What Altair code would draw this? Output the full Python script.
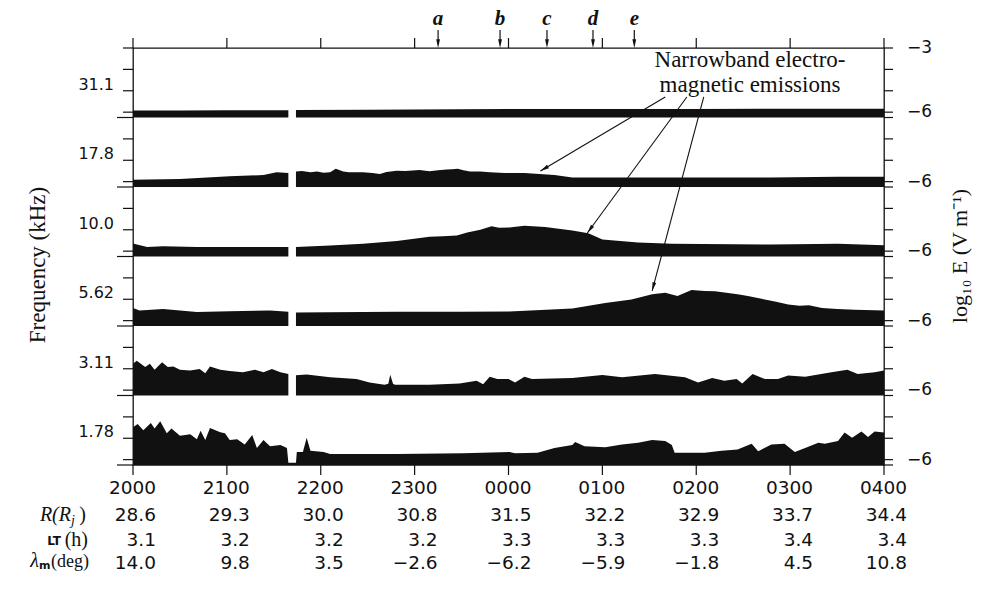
import math
import altair as alt
import pandas as pd

# ---------------- data ----------------
HOUR_LABELS = ["2000", "2100", "2200", "2300", "0000", "0100", "0200", "0300", "0400"]
R_RJ = ["28.6", "29.3", "30.0", "30.8", "31.5", "32.2", "32.9", "33.7", "34.4"]
LT_H = ["3.1", "3.2", "3.2", "3.2", "3.3", "3.3", "3.3", "3.4", "3.4"]
LAT_DEG = ["14.0", "9.8", "3.5", "\u22122.6", "\u22126.2", "\u22125.9", "\u22121.8", "4.5", "10.8"]
FREQS = ["31.1", "17.8", "10.0", "5.62", "3.11", "1.78"]
EVENT_LABELS = ["a", "b", "c", "d", "e"]
EVENT_T = [3.25, 3.91, 4.41, 4.90, 5.34]          # hours after 2000
GAP_START, GAP_END = 1.655, 1.736

# time (h after 2000) and log10 E for each channel
P1_T = [0.0, 0.5, 1.0, 1.655, 1.736, 2.5, 3.0, 3.5, 4.0, 4.6, 5.0, 6.0, 7.0, 8.0]
P1_V = [-5.92, -5.92, -5.91, -5.91, -5.90, -5.89, -5.88, -5.87, -5.85, -5.85, -5.85, -5.85, -5.84, -5.84]

P2_T = [0.0, 0.5, 1.03, 1.39, 1.53, 1.655, 1.736, 1.80, 1.89, 1.96, 2.03, 2.1, 2.16, 2.24, 2.3, 2.45,
        2.55, 2.63, 2.7, 2.81, 2.9, 2.98, 3.05, 3.16, 3.25, 3.34, 3.4, 3.46, 3.52, 3.59, 3.7, 3.8,
        3.96, 4.17, 4.49, 4.68, 5.03, 5.74, 6.8, 7.51, 8.0]
P2_V = [-5.91, -5.88, -5.75, -5.69, -5.56, -5.59, -5.53, -5.50, -5.56, -5.53, -5.58, -5.56, -5.40, -5.53, -5.56, -5.56,
        -5.60, -5.64, -5.55, -5.49, -5.50, -5.48, -5.46, -5.51, -5.47, -5.43, -5.42, -5.40, -5.47, -5.53, -5.52, -5.56,
        -5.60, -5.59, -5.69, -5.80, -5.81, -5.81, -5.80, -5.77, -5.77]

P3_T = [0.0, 0.15, 0.32, 0.68, 1.2, 1.655, 1.736, 2.1, 2.45, 2.81, 3.16, 3.3, 3.45, 3.56, 3.7, 3.82,
        3.9, 4.01, 4.17, 4.39, 4.68, 4.85, 5.0, 5.38, 5.74, 6.8, 7.51, 8.0]
P3_V = [-5.64, -5.80, -5.77, -5.80, -5.80, -5.80, -5.80, -5.74, -5.65, -5.53, -5.33, -5.30, -5.27, -5.13, -5.00, -4.84,
        -4.90, -4.89, -4.81, -4.87, -5.03, -5.16, -5.45, -5.59, -5.65, -5.69, -5.65, -5.72]

P4_T = [0.0, 0.07, 0.32, 0.68, 1.03, 1.46, 1.655, 1.736, 2.81, 3.5, 4.01, 4.68, 5.03, 5.31, 5.53, 5.67,
        5.8, 5.95, 6.09, 6.2, 6.3, 6.44, 6.55, 6.73, 6.85, 6.98, 7.1, 7.2, 7.34, 7.5, 7.69, 8.0]
P4_V = [-5.41, -5.53, -5.46, -5.60, -5.56, -5.53, -5.58, -5.62, -5.58, -5.58, -5.57, -5.43, -5.17, -5.01, -4.77, -4.69,
        -4.85, -4.57, -4.61, -4.63, -4.68, -4.77, -4.85, -5.01, -5.12, -5.25, -5.30, -5.28, -5.41, -5.45, -5.49, -5.53]

P5_T = [0.0, 0.04, 0.13, 0.18, 0.23, 0.31, 0.37, 0.43, 0.5, 0.61, 0.71, 0.77, 0.82, 0.93, 1.03, 1.17, 1.3, 1.39,
        1.48, 1.57, 1.655,
        1.736, 1.85, 2.1, 2.38, 2.52, 2.68, 2.72, 2.74, 2.77, 2.79, 3.16, 3.48, 3.66, 3.73, 3.8, 3.88, 4.0, 4.07,
        4.17, 4.25,
        4.68, 5.0, 5.21, 5.56, 5.88, 6.02, 6.17, 6.3, 6.43, 6.49, 6.6, 6.73, 6.87, 6.98, 7.16, 7.44, 7.61, 7.72,
        7.9, 8.0]
P5_V = [-4.76, -4.63, -4.92, -4.76, -5.05, -4.69, -4.92, -4.89, -5.05, -5.08, -5.01, -5.21, -4.89, -5.05, -5.11,
        -5.16, -5.05, -5.16, -5.01, -5.16, -5.24,
        -5.30, -5.27, -5.40, -5.48, -5.64, -5.75, -5.70, -5.28, -5.70, -5.75, -5.75, -5.69, -5.56, -5.72, -5.37,
        -5.48, -5.48, -5.64, -5.37, -5.48,
        -5.43, -5.29, -5.40, -5.24, -5.40, -5.64, -5.43, -5.56, -5.48, -5.69, -5.24, -5.48, -5.48, -5.32, -5.37,
        -5.16, -5.05, -5.24, -5.16, -5.08]

P6_T = [0.0, 0.05, 0.11, 0.19, 0.23, 0.29, 0.36, 0.41, 0.5, 0.61, 0.68, 0.72, 0.77, 0.82, 0.93, 0.98, 1.03,
        1.11, 1.19, 1.27, 1.32, 1.39, 1.46, 1.57, 1.64,
        1.655, 1.736,
        1.745, 1.81, 1.85, 1.89, 2.03, 2.1, 2.81, 3.52, 4.01, 4.07, 4.31, 4.49, 4.68, 4.71, 4.81, 5.03, 5.21,
        5.38, 5.53, 5.67, 5.74, 5.77,
        6.09, 6.27, 6.44, 6.59, 6.66, 6.8, 6.94, 7.05, 7.18, 7.3, 7.37, 7.51, 7.58, 7.66, 7.76, 7.83, 7.9, 8.0]
P6_V = [-4.49, -4.33, -4.62, -4.29, -4.54, -4.20, -4.77, -4.54, -4.88, -4.81, -5.05, -4.65, -5.08, -4.52, -4.72,
        -4.77, -5.08, -5.05, -5.29, -4.85, -5.45, -5.08, -5.37, -5.32, -5.45,
        -6.15, -6.15,
        -5.64, -5.64, -4.97, -5.58, -5.64, -5.73, -5.73, -5.70, -5.64, -5.70, -5.68, -5.45, -5.32, -5.17, -5.37,
        -5.42, -5.29, -5.21, -5.08, -5.13, -5.32, -5.68,
        -5.68, -5.58, -5.53, -5.26, -5.61, -5.29, -5.26, -5.64, -5.42, -5.21, -5.26, -5.13, -4.73, -4.97, -4.68,
        -4.94, -4.68, -4.73]

PANELS = [(P1_T, P1_V), (P2_T, P2_V), (P3_T, P3_V), (P4_T, P4_V), (P5_T, P5_V), (P6_T, P6_V)]

# annotation arrows: from below the text (top channel) to the emission features
ARROW_FROM_T = [5.67, 5.90, 6.08]
ARROW_FROM_LOGE = [-5.29, -5.29, -5.29]   # in the top channel's frame
ARROW_TO_T = [4.34, 4.84, 5.53]
ARROW_TO_PANEL = [1, 2, 3]
ARROW_TO_LOGE = [-5.50, -5.15, -4.61]

# ---------------- layout ----------------
W, H = 751, 417
NP = 6
SPAN = 3.25          # decades per channel strip (-3 .. -6.25)
LOW = -6.25
YMAX = NP * SPAN
SERIF = "Liberation Serif"
SANS = "DejaVu Sans"
INK = "#111111"
HEAD = "M0,-1L0.38,0.75L-0.38,0.75Z"
HEAD_SIZE = 100
HEAD_R = math.sqrt(HEAD_SIZE) / 2

xs = alt.Scale(domain=[0, 8], nice=False, zero=False)
ys = alt.Scale(domain=[0, YMAX], nice=False, zero=False)


def X(f):
    return alt.X(f"{f}:Q", scale=xs, axis=None)


def Y(f):
    return alt.Y(f"{f}:Q", scale=ys, axis=None)


def gy(k, v):
    return v - LOW + (NP - 1 - k) * SPAN


def base(k):
    return (NP - 1 - k) * SPAN


def txt(s, x, y, **kw):
    opts = dict(color=INK, baseline="middle")
    opts.update(kw)
    return alt.Chart(pd.DataFrame({"s": [s]})).mark_text(**opts).encode(
        x=alt.value(x), y=alt.value(y), text="s:N")


# ---- channel areas
rows = []
for k, (ts, vs) in enumerate(PANELS):
    assert len(ts) == len(vs), k
    for t, v in zip(ts, vs):
        seg = 0 if (k == NP - 1 or t <= GAP_START + 1e-6) else 1
        rows.append({"key": f"{k}-{seg}", "t": t, "y": gy(k, v), "b": base(k)})
areas = alt.Chart(pd.DataFrame(rows)).mark_area(color=INK, interpolate="linear").encode(
    x=X("t"), y=Y("y"), y2=alt.Y2("b:Q"), detail="key:N")

# ---- side ticks
ticks_df = pd.DataFrame({"y": [gy(k, e) for k in range(NP) for e in (-4, -5, -6)] + [YMAX]})
bounds_df = pd.DataFrame({"y": [base(k) for k in range(NP)]})
minus6_df = pd.DataFrame({"y": [gy(k, -6) for k in range(NP)], "s": ["\u22126"] * NP})
freq_df = pd.DataFrame({"y": [gy(k, -4.73) for k in range(NP)], "s": FREQS})

rule = dict(color=INK, strokeWidth=1.2)
left_ticks = alt.Chart(ticks_df).mark_rule(**rule).encode(x=alt.value(-10), x2=alt.value(0), y=Y("y"))
left_bounds = alt.Chart(bounds_df).mark_rule(**rule).encode(x=alt.value(-16), x2=alt.value(0), y=Y("y"))
right_ticks = alt.Chart(ticks_df).mark_rule(**rule).encode(x=alt.value(W), x2=alt.value(W + 9), y=Y("y"))
right_bounds = alt.Chart(bounds_df).mark_rule(**rule).encode(x=alt.value(W), x2=alt.value(W + 9), y=Y("y"))

right_labels = alt.Chart(minus6_df).mark_text(font=SANS, fontSize=17, align="left", baseline="middle", color=INK).encode(
    x=alt.value(W + 23), y=Y("y"), text="s:N")
right_top = txt("\u22123", W + 23, 0, font=SANS, fontSize=17, align="left")
freq_labels = alt.Chart(freq_df).mark_text(font=SANS, fontSize=16, align="right", baseline="middle", color=INK).encode(
    x=alt.value(-19), y=Y("y"), text="s:N")

# ---- time axis
hours_df = pd.DataFrame({"t": list(range(9)), "h": HOUR_LABELS, "r": R_RJ, "lt": LT_H, "lat": LAT_DEG})
top_ticks = alt.Chart(hours_df).mark_rule(**rule).encode(x=X("t"), y=alt.value(-10), y2=alt.value(0))
bot_ticks = alt.Chart(hours_df).mark_rule(**rule).encode(x=X("t"), y=alt.value(H), y2=alt.value(H + 10))


def row(field, ypix):
    return alt.Chart(hours_df).mark_text(font=SANS, fontSize=18.5, align="right", dx=23,
                                         baseline="middle", color=INK).encode(
        x=X("t"), y=alt.value(ypix), text=f"{field}:N")


rows_text = [row("h", 440), row("r", 467), row("lt", 492), row("lat", 515)]

row_titles = [
    txt("R(R", -62, 467, font=SERIF, fontSize=20, fontStyle="italic", align="right"),
    txt("j", -62, 473, font=SERIF, fontSize=14, fontStyle="italic", align="left"),
    txt(")", -47, 467, font=SERIF, fontSize=20, align="right"),
    txt("LT", -72, 493, font=SANS, fontSize=12, fontWeight="bold", align="right"),
    txt("(h)", -45, 492, font=SERIF, fontSize=20, align="right"),
    txt("\u03bb", -94, 513, font=SERIF, fontSize=20, fontStyle="italic", align="right"),
    txt("m", -94, 518, font=SANS, fontSize=11, fontWeight="bold", align="left"),
    txt("(deg)", -44, 514, font=SERIF, fontSize=18, align="right"),
]

# ---- event markers a..e
ev_df = pd.DataFrame({"t": EVENT_T, "s": EVENT_LABELS, "ang": [180] * len(EVENT_T)})
ev_text = alt.Chart(ev_df).mark_text(font=SERIF, fontSize=21, fontStyle="italic", fontWeight="bold",
                                     baseline="middle", color=INK).encode(
    x=X("t"), y=alt.value(-29), text="s:N")
ev_line = alt.Chart(ev_df).mark_rule(**rule).encode(x=X("t"), y=alt.value(-18), y2=alt.value(-5))
ev_head = alt.Chart(ev_df).mark_point(shape=HEAD, size=HEAD_SIZE, filled=True, opacity=1, color=INK,
                                      strokeWidth=0).encode(
    x=X("t"), y=alt.value(-HEAD_R), angle=alt.Angle("ang:Q", scale=None))

# ---- annotation arrows
arows = []
for t0, v0, t1, k1, v1 in zip(ARROW_FROM_T, ARROW_FROM_LOGE, ARROW_TO_T, ARROW_TO_PANEL, ARROW_TO_LOGE):
    y0, y1 = gy(0, v0), gy(k1, v1)
    px0, py0 = t0 * W / 8, (YMAX - y0) * H / YMAX
    px1, py1 = t1 * W / 8, (YMAX - y1) * H / YMAX
    dx, dy = px1 - px0, py1 - py0
    L = math.hypot(dx, dy)
    ang = math.degrees(math.atan2(dx, -dy)) % 360
    cx, cy = px1 - dx / L * HEAD_R, py1 - dy / L * HEAD_R
    arows.append({"t0": t0, "y0": y0, "t1": t1, "y1": y1,
                  "tc": cx * 8 / W, "yc": YMAX - cy * YMAX / H, "ang": ang})
arr_df = pd.DataFrame(arows)
arr_line = alt.Chart(arr_df).mark_rule(color=INK, strokeWidth=1.1).encode(
    x=X("t0"), y=Y("y0"), x2=alt.X2("t1:Q"), y2=alt.Y2("y1:Q"))
arr_head = alt.Chart(arr_df).mark_point(shape=HEAD, size=HEAD_SIZE, filled=True, opacity=1, color=INK,
                                        strokeWidth=0).encode(
    x=X("tc"), y=Y("yc"), angle=alt.Angle("ang:Q", scale=None))

# ---- titles / annotation text
titles = [
    txt("Narrowband electro-", 617, 12, font=SERIF, fontSize=23, align="center"),
    txt("magnetic emissions", 617, 37, font=SERIF, fontSize=23, align="center"),
    txt("Frequency (kHz)", -95, 217, font=SERIF, fontSize=23, angle=270, align="center"),
    txt("log\u2081\u2080 E (V m\u207b\u00b9)", 827, 208, font=SERIF, fontSize=22, angle=270, align="center"),
]

chart = alt.layer(
    areas, left_ticks, left_bounds, right_ticks, right_bounds, right_labels, right_top, freq_labels,
    top_ticks, bot_ticks, *rows_text, *row_titles, ev_text, ev_line, ev_head, arr_line, arr_head, *titles
).properties(
    width=W, height=H,
    padding={"left": 125, "top": 40, "right": 94, "bottom": 117},
    autosize=alt.AutoSizeParams(type="none"),
    background="white",
).configure_view(stroke=INK, strokeWidth=1.3)

chart.save("out.html", embed_options={"renderer": "svg", "actions": False})
